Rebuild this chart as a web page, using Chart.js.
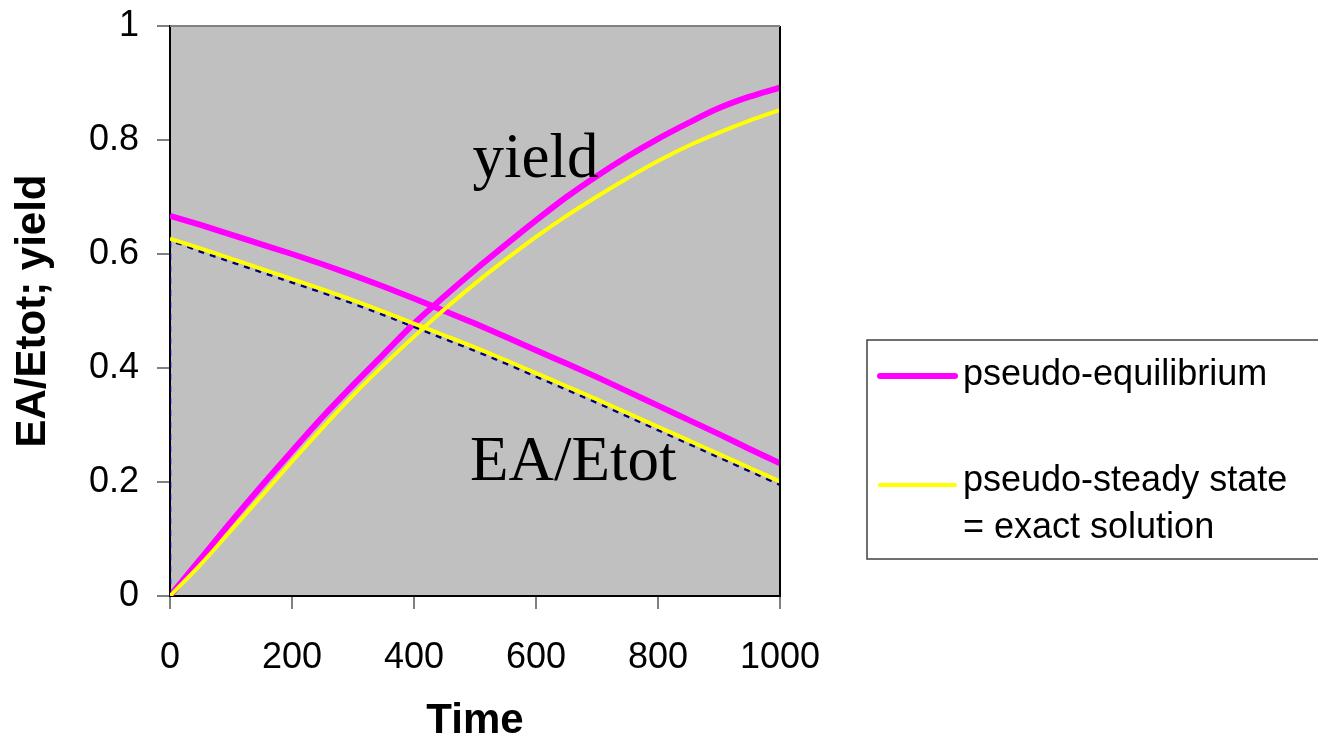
<!DOCTYPE html>
<html>
<head>
<meta charset="utf-8">
<script src="https://cdn.jsdelivr.net/npm/chart.js@4"></script>
<style>
  body { margin: 0; background: #fff; }
  canvas { display: block; }
</style>
</head>
<body>
<canvas id="kinetics" width="1318" height="747"></canvas>
<script>
// time axis and the curves
const time = [0, 50, 100, 150, 200, 250, 300, 350, 400, 450, 500, 550, 600, 650, 700, 750, 800, 850, 900, 950, 1000];

const peEA    = [0.667, 0.651, 0.634, 0.617, 0.600, 0.582, 0.563, 0.543, 0.522, 0.500, 0.478, 0.455, 0.431, 0.408, 0.384, 0.359, 0.334, 0.309, 0.284, 0.258, 0.233];
const peYield = [0, 0.065, 0.130, 0.193, 0.254, 0.314, 0.370, 0.424, 0.478, 0.526, 0.572, 0.616, 0.659, 0.700, 0.737, 0.771, 0.802, 0.830, 0.856, 0.876, 0.892];

const pssEA    = [0.627, 0.610, 0.592, 0.574, 0.556, 0.538, 0.519, 0.499, 0.478, 0.457, 0.436, 0.414, 0.391, 0.368, 0.345, 0.321, 0.297, 0.273, 0.249, 0.225, 0.201];
const pssYield = [0, 0.055, 0.115, 0.175, 0.236, 0.295, 0.352, 0.405, 0.455, 0.503, 0.548, 0.590, 0.630, 0.667, 0.701, 0.733, 0.763, 0.790, 0.813, 0.834, 0.853];

// exact solution (dashed navy, mostly hidden under the yellow line)
const exactTime = [0, 0, 50, 100, 150, 200, 250, 300, 350, 400, 450, 500, 550, 600, 650, 700, 750, 800, 850, 900, 950, 1000];
const exactEA   = [0, 0.621, 0.604, 0.586, 0.568, 0.550, 0.532, 0.513, 0.493, 0.472, 0.451, 0.430, 0.408, 0.385, 0.362, 0.339, 0.315, 0.291, 0.267, 0.243, 0.219, 0.195];

const xTicks = [0, 200, 400, 600, 800, 1000];
const yTicks = [0, 0.2, 0.4, 0.6, 0.8, 1];

const MAGENTA = '#FF00FF';
const YELLOW = '#FFFF00';
const NAVY = '#000080';

function pts(xs, ys) {
    return xs.map((x, i) => ({ x: x, y: ys[i] }));
}

// gray plot area
const plotBackground = {
    id: 'plotBackground',
    beforeDraw(chart) {
        const { ctx, chartArea: a } = chart;
        ctx.save();
        ctx.fillStyle = '#C0C0C0';
        ctx.fillRect(a.left, a.top, a.right - a.left, a.bottom - a.top);
        ctx.restore();
    },
    afterDraw(chart) {
        const { ctx, chartArea: a } = chart;
        ctx.save();
        ctx.strokeStyle = '#000';
        ctx.lineWidth = 2;
        ctx.beginPath();
        ctx.moveTo(a.right, a.top);
        ctx.lineTo(a.right, a.bottom);
        ctx.stroke();
        ctx.strokeStyle = '#808080';
        ctx.beginPath();
        ctx.moveTo(a.left, a.top);
        ctx.lineTo(a.right, a.top);
        ctx.stroke();
        ctx.restore();
    }
};

// curve names written inside the plot
const curveLabels = {
    id: 'curveLabels',
    afterDatasetsDraw(chart) {
        const { ctx, scales } = chart;
        ctx.save();
        ctx.fillStyle = '#000';
        ctx.font = '63px "Liberation Serif", "Times New Roman", serif';
        ctx.textAlign = 'left';
        ctx.textBaseline = 'alphabetic';
        ctx.fillText('yield', scales.x.getPixelForValue(496), scales.y.getPixelForValue(0.735));
        ctx.fillText('EA/Etot', scales.x.getPixelForValue(492), scales.y.getPixelForValue(0.203));
        ctx.restore();
    }
};

// boxed legend with the two-line second entry
const boxLegend = {
    id: 'boxLegend',
    afterDraw(chart) {
        const { ctx, chartArea: a } = chart;
        const left = a.right + 87, top = 340, w = 460, h = 219;
        ctx.save();
        ctx.fillStyle = '#fff';
        ctx.fillRect(left, top, w, h);
        ctx.strokeStyle = '#404040';
        ctx.lineWidth = 1.5;
        ctx.strokeRect(left, top, w, h);

        const entries = chart.data.datasets
            .filter(d => d.legendRank !== undefined)
            .sort((p, q) => p.legendRank - q.legendRank);
        const rows = [{ line: 376, text: [375] }, { line: 485, text: [481, 528] }];
        ctx.font = '36px "Liberation Sans", Arial, sans-serif';
        ctx.textAlign = 'left';
        ctx.textBaseline = 'middle';
        entries.forEach((d, i) => {
            const r = rows[i];
            ctx.strokeStyle = d.borderColor;
            ctx.lineWidth = d.borderWidth;
            ctx.lineCap = 'round';
            ctx.beginPath();
            ctx.moveTo(left + 13, r.line);
            ctx.lineTo(left + 88, r.line);
            ctx.stroke();
            ctx.fillStyle = '#000';
            d.label.split('\n').forEach((t, j) => ctx.fillText(t, left + 96, r.text[j]));
        });
        ctx.restore();
    }
};

const ctx = document.getElementById('kinetics').getContext('2d');

const chart = new Chart(ctx, {
    type: 'line',
    data: {
        datasets: [
            {
                label: 'pseudo-steady state\n= exact solution',
                legendRank: 1,
                data: pts(time, pssEA),
                borderColor: YELLOW,
                borderWidth: 4,
                order: 1
            },
            {
                label: 'pssYield',
                data: pts(time, pssYield),
                borderColor: YELLOW,
                borderWidth: 4,
                order: 1
            },
            {
                label: 'exact',
                data: pts(exactTime, exactEA),
                borderColor: NAVY,
                borderWidth: 2.5,
                borderDash: [6, 6],
                order: 2
            },
            {
                label: 'pseudo-equilibrium',
                legendRank: 0,
                data: pts(time, peEA),
                borderColor: MAGENTA,
                borderWidth: 6,
                order: 3
            },
            {
                label: 'peYield',
                data: pts(time, peYield),
                borderColor: MAGENTA,
                borderWidth: 6,
                order: 3
            }
        ]
    },
    options: {
        responsive: false,
        animation: false,
        elements: {
            point: { radius: 0 },
            line: { cubicInterpolationMode: 'monotone', fill: false }
        },
        layout: {
            padding: { left: 0, top: 26, right: 538, bottom: 0 }
        },
        scales: {
            x: {
                type: 'linear',
                min: 0,
                max: 1000,
                afterFit(scale) {
                    scale.height = 151;
                    scale.paddingLeft = 0;
                    scale.paddingRight = 0;
                },
                afterBuildTicks(scale) { scale.ticks = xTicks.map(v => ({ value: v })); },
                grid: { display: true, drawOnChartArea: false, drawTicks: true, tickLength: 13, color: '#808080', lineWidth: 2 },
                border: { color: '#000', width: 2 },
                ticks: {
                    color: '#000',
                    font: { family: '"Liberation Sans", Arial, sans-serif', size: 36 },
                    padding: 27,
                    maxRotation: 0,
                    callback: v => String(v)
                },
                title: {
                    display: true,
                    text: 'Time',
                    color: '#000',
                    font: { family: '"Liberation Sans", Arial, sans-serif', size: 42, weight: 'bold' },
                    padding: { top: 0, bottom: 0 }
                }
            },
            y: {
                min: 0,
                max: 1,
                afterFit(scale) {
                    scale.width = 170;
                    scale.paddingTop = 0;
                    scale.paddingBottom = 0;
                },
                afterBuildTicks(scale) { scale.ticks = yTicks.map(v => ({ value: v })); },
                grid: { display: true, drawOnChartArea: false, drawTicks: true, tickLength: 13, color: '#808080', lineWidth: 2 },
                border: { color: '#000', width: 2 },
                ticks: {
                    color: '#000',
                    font: { family: '"Liberation Sans", Arial, sans-serif', size: 36 },
                    padding: 18,
                    callback: v => String(v)
                },
                title: {
                    display: true,
                    text: 'EA/Etot; yield',
                    color: '#000',
                    font: { family: '"Liberation Sans", Arial, sans-serif', size: 42, weight: 'bold' },
                    padding: { top: 8, bottom: 0 }
                }
            }
        },
        plugins: {
            legend: { display: false },
            tooltip: { enabled: false }
        }
    },
    plugins: [plotBackground, curveLabels, boxLegend]
});
</script>
</body>
</html>
